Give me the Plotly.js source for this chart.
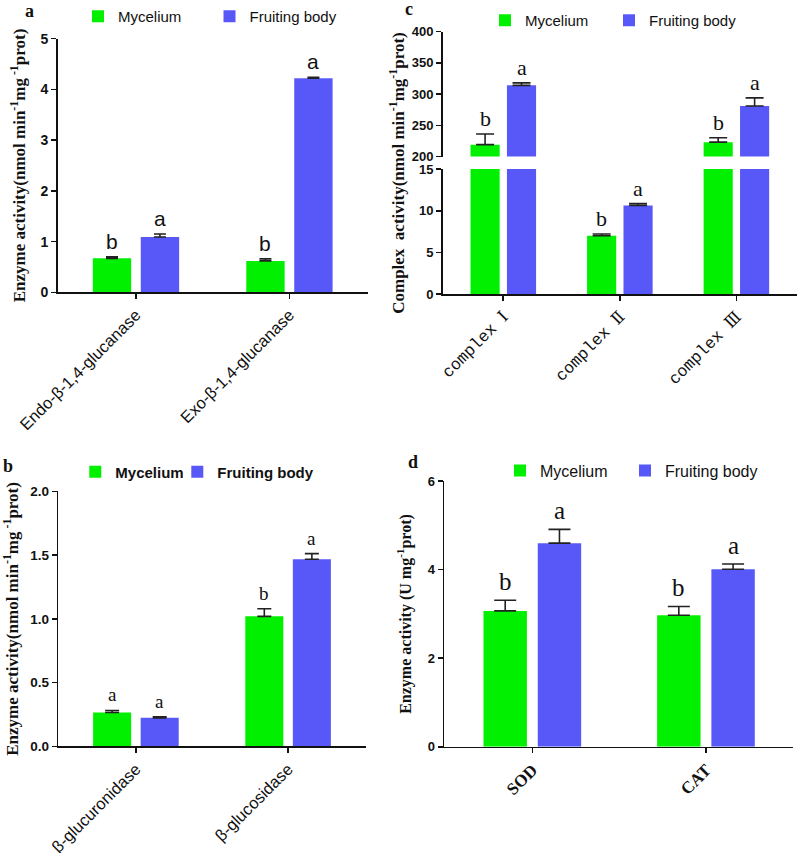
<!DOCTYPE html>
<html><head><meta charset="utf-8">
<script src="https://cdn.plot.ly/plotly-3.0.1.min.js"></script>
<style>html,body{margin:0;padding:0;background:#fff}#chart{width:797px;height:853px}</style>
</head><body><div id="chart"></div>
<script>
// ---------- Panel a ----------
const catsA = ["Endo-β-1,4-glucanase", "Exo-β-1,4-glucanase"];
const myceliumA = [0.67, 0.62];
const myceliumErrA = [0.03, 0.04];
const fruitingA = [1.09, 4.22];
const fruitingErrA = [0.06, 0.02];
const sigMyceliumA = ["b", "b"];
const sigFruitingA = ["a", "a"];
// ---------- Panel b ----------
const catsB = ["β-glucuronidase", "β-glucosidase"];
const myceliumB = [0.266, 1.02];
const myceliumErrB = [0.016, 0.06];
const fruitingB = [0.224, 1.468];
const fruitingErrB = [0.008, 0.044];
const sigMyceliumB = ["a", "b"];
const sigFruitingB = ["a", "a"];
// ---------- Panel c ----------
const catsC = ["complex Ⅰ", "complex Ⅱ", "complex Ⅲ"];
const myceliumC = [219, 7.0, 223];
const myceliumErrC = [17, 0.2, 7];
const fruitingC = [314, 10.63, 281];
const fruitingErrC = [4, 0.22, 13];
const sigMyceliumC = ["b", "b", "b"];
const sigFruitingC = ["a", "a", "a"];
// ---------- Panel d ----------
const catsD = ["SOD", "CAT"];
const myceliumD = [3.07, 2.97];
const myceliumErrD = [0.24, 0.20];
const fruitingD = [4.60, 4.01];
const fruitingErrD = [0.31, 0.12];
const sigMyceliumD = ["b", "b"];
const sigFruitingD = ["a", "a"];

const seriesNames = ["Mycelium", "Fruiting body"];
const GREEN = "#00F000", BLUE = "#5858F8";
const W = 797, H = 853;
const px = v => v / W, py = v => 1 - v / H;
const SANS = "Liberation Sans, Arial, sans-serif";
const SERIF = "Liberation Serif, Times New Roman, serif";
const MONO = "Liberation Mono, DejaVu Serif, monospace";

function err(arr, w) {
  return {type: "data", symmetric: false, array: arr, arrayminus: arr.map(() => 0),
          color: "#222", thickness: 1.6, width: w, visible: true};
}
function barTrace(name, cats, vals, errs, color, xa, ya, legend, showlegend, w, lw) {
  const t = {type: "bar", name: name, x: cats, y: vals, error_y: err(errs, w),
          marker: {color: color, line: {color: color, width: 0}},
          xaxis: xa, yaxis: ya, legend: legend, showlegend: showlegend,
          cliponaxis: true, hoverinfo: "skip"};
  if (lw) t.legendwidth = lw;
  return t;
}

const data = [
  barTrace(seriesNames[0], catsA, myceliumA, myceliumErrA, GREEN, "x", "y", "legend", true, 6, 86.5),
  barTrace(seriesNames[1], catsA, fruitingA, fruitingErrA, BLUE, "x", "y", "legend", true, 6),
  barTrace(seriesNames[0], catsC, myceliumC, myceliumErrC, GREEN, "x2", "y2", "legend3", true, 9, 79),
  barTrace(seriesNames[1], catsC, fruitingC, fruitingErrC, BLUE, "x2", "y2", "legend3", true, 9),
  barTrace(seriesNames[0], catsC, myceliumC, myceliumErrC, GREEN, "x2", "y3", "legend3", false, 9),
  barTrace(seriesNames[1], catsC, fruitingC, fruitingErrC, BLUE, "x2", "y3", "legend3", false, 9),
  barTrace(seriesNames[0], catsB, myceliumB, myceliumErrB, GREEN, "x3", "y4", "legend2", true, 7, 57),
  barTrace(seriesNames[1], catsB, fruitingB, fruitingErrB, BLUE, "x3", "y4", "legend2", true, 7),
  barTrace(seriesNames[0], catsD, myceliumD, myceliumErrD, GREEN, "x4", "y5", "legend4", true, 11, 80),
  barTrace(seriesNames[1], catsD, fruitingD, fruitingErrD, BLUE, "x4", "y5", "legend4", true, 11)
];

const axLine = {showline: true, linecolor: "#111", linewidth: 1.6, ticks: "outside",
  ticklen: 5, tickwidth: 1.6, tickcolor: "#111", showgrid: false, zeroline: false, fixedrange: true};

function xAxis(dom, range, anchor, font, extra) {
  return Object.assign({}, axLine, {domain: dom, range: range, anchor: anchor,
    type: "category", tickangle: -45, tickfont: font}, extra || {});
}
function yAxis(dom, range, dtick, anchor, font, extra) {
  return Object.assign({}, axLine, {domain: dom, range: range, dtick: dtick, anchor: anchor,
    tickfont: font}, extra || {});
}

const bold13 = {family: SANS, size: 13, color: "#111", weight: "bold"};
const annotations = [];
const off = 0.15625;
function sigLetters(sigM, sigF, valsM, errM, valsF, errF, xref, yrefFn, font, shift) {
  sigM.forEach((t, i) => {
    annotations.push({x: i - off, y: valsM[i] + errM[i], xref: xref, yref: yrefFn(valsM[i]),
      text: t, showarrow: false, yanchor: "bottom", yshift: shift, font: font});
  });
  sigF.forEach((t, i) => {
    annotations.push({x: i + off, y: valsF[i] + errF[i], xref: xref, yref: yrefFn(valsF[i]),
      text: t, showarrow: false, yanchor: "bottom", yshift: shift, font: font});
  });
}
sigLetters(sigMyceliumA, sigFruitingA, myceliumA, myceliumErrA, fruitingA, fruitingErrA, "x", () => "y",
  {family: SANS, size: 21, color: "#111"}, 2);
sigLetters(sigMyceliumB, sigFruitingB, myceliumB, myceliumErrB, fruitingB, fruitingErrB, "x3", () => "y4",
  {family: SERIF, size: 19, color: "#111"}, 3);
sigLetters(sigMyceliumC, sigFruitingC, myceliumC, myceliumErrC, fruitingC, fruitingErrC, "x2",
  v => (v > 15 ? "y3" : "y2"), {family: SERIF, size: 22, color: "#111"}, 1);
sigLetters(sigMyceliumD, sigFruitingD, myceliumD, myceliumErrD, fruitingD, fruitingErrD, "x4", () => "y5",
  {family: SERIF, size: 25, color: "#111"}, 3);

// panel letters
[["a", 30, 10], ["c", 409, 8], ["b", 8, 466], ["d", 413, 462]].forEach(p => {
  annotations.push({x: px(p[1]), y: py(p[2]), xref: "paper", yref: "paper", text: p[0],
    showarrow: false, xanchor: "center", yanchor: "middle",
    font: {family: SERIF, size: 18, color: "#111", weight: "bold"}});
});
// panel c y title spanning the broken axis
annotations.push({x: px(397), y: py(172), xref: "paper", yref: "paper", textangle: -90,
  xanchor: "center", yanchor: "middle",
  text: "Complex  activity(nmol min<sup>-1</sup>mg<sup>-1</sup>prot)", showarrow: false,
  font: {family: SERIF, size: 17, color: "#111", weight: "bold"}});

const titleFont = {family: SERIF, size: 17, color: "#111", weight: "bold"};

const layout = {
  width: W, height: H, margin: {l: 0, r: 0, t: 0, b: 0},
  paper_bgcolor: "#fff", plot_bgcolor: "rgba(0,0,0,0)",
  barmode: "group", bargap: 0.375, bargroupgap: 0.2,
  font: {family: SANS, color: "#111"},
  xaxis: xAxis([px(57.7), px(367.7)], [-0.51, 1.51], "y", {family: SANS, size: 16.5, color: "#111"}),
  yaxis: yAxis([py(291.7), py(37.7)], [0, 5], 1, "x", {family: SANS, size: 14, color: "#111", weight: "bold"},
    {title: {text: "Enzyme activity(nmol min<sup>-1</sup>mg<sup> -1</sup>prot)", font: titleFont, standoff: 10}}),
  xaxis2: xAxis([px(442.7), px(797)], [-0.52, 2.52], "y2", {family: MONO, size: 16.5, color: "#111"}),
  yaxis2: yAxis([py(293.3), py(168.3)], [0, 15], 5, "x2", bold13),
  yaxis3: yAxis([py(155.7), py(30.7)], [200, 400], 50, "x2", bold13),
  xaxis3: xAxis([px(58.3), px(365.7)], [-0.51, 1.51], "y4", {family: SANS, size: 16.5, color: "#111"}),
  yaxis4: yAxis([py(746.3), py(491)], [0, 2], 0.5, "x3", {family: SANS, size: 13.5, color: "#111", weight: "bold"},
    {tickformat: ".1f", title: {text: "Enzyme activity(nmol min<sup>-1</sup>mg<sup> -1</sup>prot)", font: titleFont, standoff: 10}}),
  xaxis4: xAxis([px(444.3), px(793.3)], [-0.507, 1.503], "y5", {family: SERIF, size: 17, color: "#111", weight: "bold"}),
  yaxis5: yAxis([py(746.7), py(480.7)], [0, 6], 2, "x4", bold13,
    {title: {text: "Enzyme activity (U mg<sup>-1</sup>prot)", font: {family: SERIF, size: 16, color: "#111", weight: "bold"}, standoff: 12}}),
  legend: {orientation: "h", x: px(78), y: py(16), xanchor: "left", yanchor: "middle",
    bgcolor: "rgba(0,0,0,0)", font: {family: SANS, size: 15, color: "#111"}},
  legend2: {orientation: "h", x: px(75.3), y: py(472), xanchor: "left", yanchor: "middle",
    bgcolor: "rgba(0,0,0,0)", font: {family: SANS, size: 15, color: "#111", weight: "bold"}},
  legend3: {orientation: "h", x: px(485), y: py(20.5), xanchor: "left", yanchor: "middle",
    bgcolor: "rgba(0,0,0,0)", font: {family: SANS, size: 15, color: "#111"}},
  legend4: {orientation: "h", x: px(500), y: py(470.5), xanchor: "left", yanchor: "middle",
    bgcolor: "rgba(0,0,0,0)", font: {family: SANS, size: 16, color: "#111"}},
  annotations: annotations,
  showlegend: true
};

Plotly.newPlot("chart", data, layout, {displayModeBar: false, staticPlot: true});
</script>
</body></html>
